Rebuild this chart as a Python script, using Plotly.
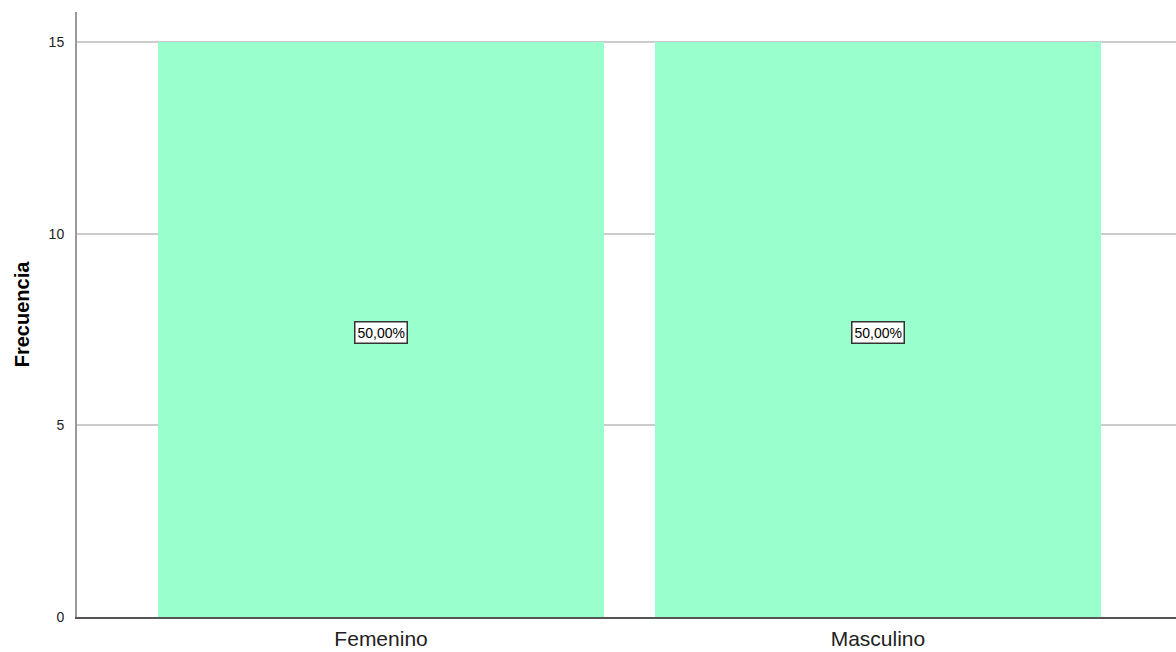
import plotly.graph_objects as go

categories = ["Femenino", "Masculino"]
counts = [15, 15]
percent_labels = ["50,00%", "50,00%"]

FONT = "Liberation Sans, Arial, sans-serif"

fig = go.Figure()
fig.add_trace(go.Bar(
    x=categories, y=counts, width=0.897,
    marker=dict(color="#99FFCC", line=dict(width=0)),
    hoverinfo="skip",
))
for c, v, t in zip(categories, counts, percent_labels):
    fig.add_annotation(
        x=c, y=v / 2, text=t, showarrow=False, yshift=-3,
        font=dict(family=FONT, size=14, color="#000000"),
        bgcolor="#FFFFFF", bordercolor="#333333", borderwidth=1.5, borderpad=2,
    )

fig.update_layout(
    width=1176, height=652,
    margin=dict(l=77, r=0, t=12, b=35),
    paper_bgcolor="white", plot_bgcolor="white",
    showlegend=False,
    font=dict(family=FONT, color="#000000"),
    bargap=0,
)
fig.update_xaxes(
    type="category", range=[-0.612, 1.6],
    showline=True, linecolor="#555555", linewidth=1.5,
    showgrid=False, ticks="", ticklabelstandoff=2,
    tickfont=dict(size=21, color="#222222"),
)
fig.update_yaxes(
    range=[0, 15.78], tickvals=[0, 5, 10, 15],
    showline=True, linecolor="#999999", linewidth=2,
    showgrid=True, gridcolor="#CCCCCC", gridwidth=2,
    zeroline=False, ticks="", ticklabelstandoff=8,
    tickfont=dict(size=14, color="#222222"),
    title=dict(text="<b>Frecuencia</b>", font=dict(size=20), standoff=14),
)

fig.write_html(
    "out.html",
    config={"displayModeBar": False},
    post_script="document.body.style.margin='0';document.body.style.overflow='hidden';",
)
